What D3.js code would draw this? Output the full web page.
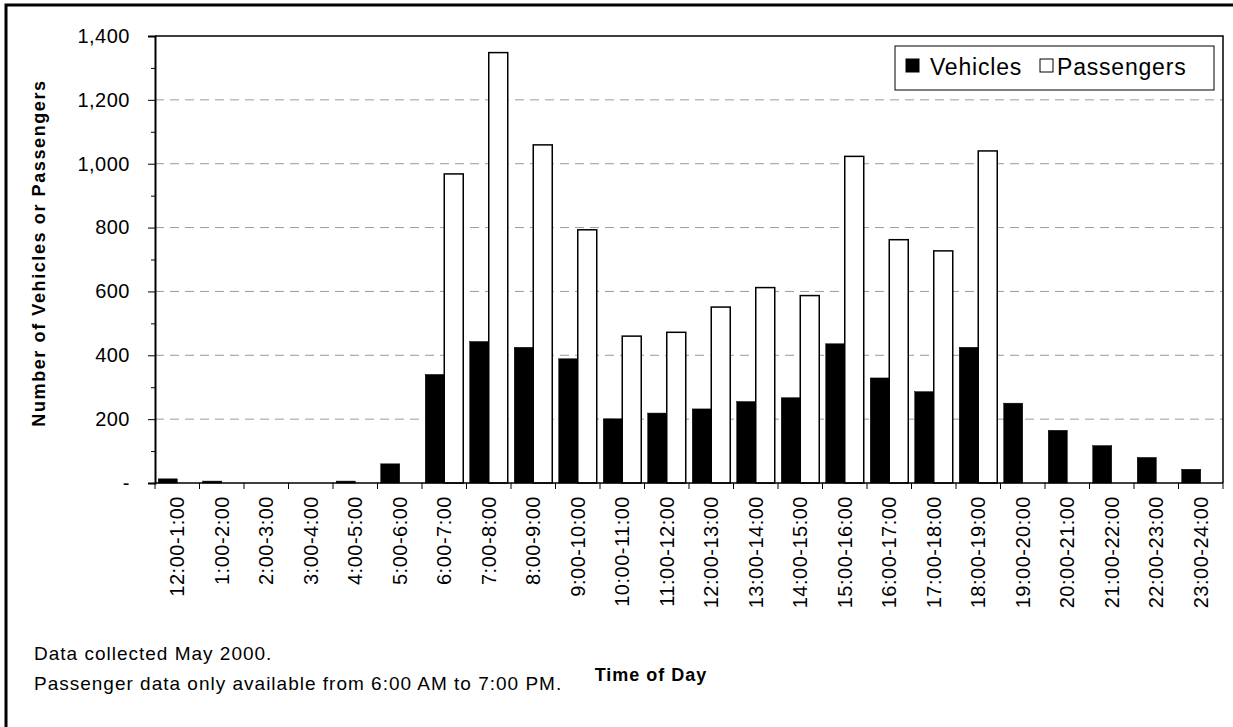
<!DOCTYPE html>
<html>
<head>
<meta charset="utf-8">
<script src="https://cdn.jsdelivr.net/npm/d3@7"></script>
<style>
    body { margin: 0; background: #fff; }
    svg text { font-family: Arial, "Liberation Sans", sans-serif; fill: #000; }
</style>
</head>
<body>
<div id="chart"></div>
<script>
const categories = ["12:00-1:00", "1:00-2:00", "2:00-3:00", "3:00-4:00", "4:00-5:00", "5:00-6:00",
    "6:00-7:00", "7:00-8:00", "8:00-9:00", "9:00-10:00", "10:00-11:00", "11:00-12:00",
    "12:00-13:00", "13:00-14:00", "14:00-15:00", "15:00-16:00", "16:00-17:00", "17:00-18:00",
    "18:00-19:00", "19:00-20:00", "20:00-21:00", "21:00-22:00", "22:00-23:00", "23:00-24:00"]
const vehicles = [13, 6, 0, 0, 6, 60, 340, 443, 425, 389, 201, 219, 232, 255, 267, 436, 329, 286, 425, 250, 165, 117, 80, 43]
const passengers = [null, null, null, null, null, null, 968, 1348, 1059, 793, 460, 472, 551, 612, 587, 1023, 762, 727, 1040, null, null, null, null, null]
const seriesNames = ["Vehicles", "Passengers"]
const yTicks = [0, 200, 400, 600, 800, 1000, 1200, 1400]
const notes = ["Data collected May 2000.", "Passenger data only available from 6:00 AM to 7:00 PM."]

const width = 1233
const height = 727
const plot = {left: 155, right: 1223, top: 36, bottom: 483}

const svg = d3.select("#chart").append("svg")
    .attr("width", width)
    .attr("height", height)

// outer frame (only top and left edges fall inside the picture)
svg.append("rect")
    .attr("x", 6).attr("y", 5)
    .attr("width", width + 20).attr("height", height + 20)
    .attr("fill", "none").attr("stroke", "#000").attr("stroke-width", 3)

const x0 = d3.scaleBand()
    .domain(categories)
    .range([plot.left, plot.right])
    .paddingInner(0.146)
    .paddingOuter(0.073)
const x1 = d3.scaleBand()
    .domain(seriesNames)
    .range([0, x0.bandwidth()])
const y = d3.scaleLinear()
    .domain([0, 1400])
    .range([plot.bottom, plot.top])

// gridlines
svg.append("g")
    .selectAll("line")
    .data(yTicks.filter(d => d > 0 && d < 1400))
    .enter()
    .append("line")
    .attr("x1", plot.left).attr("x2", plot.right)
    .attr("y1", d => y(d)).attr("y2", d => y(d))
    .attr("stroke", "#9a9a9a")
    .attr("stroke-dasharray", "9,6")

// plot area border (top and right)
svg.append("path")
    .attr("d", `M${plot.left},${plot.top}H${plot.right}V${plot.bottom}`)
    .attr("fill", "none").attr("stroke", "#000").attr("stroke-width", 1.5)

const rows = categories.map((c, i) => ({cat: c, Vehicles: vehicles[i], Passengers: passengers[i]}))

const groups = svg.append("g")
    .selectAll("g")
    .data(rows)
    .enter()
    .append("g")
    .attr("transform", d => `translate(${x0(d.cat)},0)`)

groups.selectAll("rect")
    .data(d => seriesNames.map(k => ({key: k, value: d[k]})).filter(v => v.value !== null))
    .enter()
    .append("rect")
    .attr("x", d => x1(d.key))
    .attr("width", x1.bandwidth())
    .attr("y", d => y(d.value))
    .attr("height", d => y(0) - y(d.value))
    .attr("fill", d => d.key === "Vehicles" ? "#000" : "#fff")
    .attr("stroke", "#000")
    .attr("stroke-width", d => d.key === "Vehicles" ? 0.5 : 1.5)

// y axis
const yAxis = d3.axisLeft(y)
    .tickValues(yTicks)
    .tickSize(7)
    .tickPadding(18)
    .tickFormat(d => d === 0 ? "-" : d3.format(",")(d))
const yg = svg.append("g")
    .attr("transform", `translate(${plot.left},0)`)
    .call(yAxis)
yg.select(".domain").attr("stroke-width", 2)
yg.selectAll(".tick text")
    .style("font-size", "20px")
    .style("letter-spacing", "0.5px")
svg.append("g")
    .attr("transform", `translate(${plot.left},0)`)
    .call(d3.axisLeft(y).tickValues(d3.range(100, 1400, 200)).tickSize(4).tickFormat(""))
    .select(".domain").remove()

// x axis
const step = x0.step()
const gap = step - x0.bandwidth()
const bounds = categories.map(c => x0(c) - gap / 2).concat([x0(categories[categories.length - 1]) + x0.bandwidth() + gap / 2])
svg.append("line")
    .attr("x1", plot.left).attr("x2", plot.right)
    .attr("y1", plot.bottom).attr("y2", plot.bottom)
    .attr("stroke", "#000").attr("stroke-width", 1.5)
svg.append("g")
    .selectAll("line")
    .data(bounds)
    .enter()
    .append("line")
    .attr("x1", d => d).attr("x2", d => d)
    .attr("y1", plot.bottom).attr("y2", plot.bottom + 6)
    .attr("stroke", "#000").attr("stroke-width", 1)
svg.append("g")
    .selectAll("text")
    .data(categories)
    .enter()
    .append("text")
    .attr("transform", d => `translate(${x0(d) + x0.bandwidth() / 2},496) rotate(-90)`)
    .attr("dy", "0.35em")
    .attr("text-anchor", "end")
    .style("font-size", "20px")
    .style("letter-spacing", "0.5px")
    .text(d => d)

// axis titles
svg.append("text")
    .attr("transform", "translate(45,253) rotate(-90)")
    .attr("text-anchor", "middle")
    .style("font-size", "18px")
    .style("font-weight", "bold")
    .style("letter-spacing", "1.6px")
    .text("Number of Vehicles or Passengers")
svg.append("text")
    .attr("x", 651).attr("y", 681)
    .attr("text-anchor", "middle")
    .style("font-size", "18px")
    .style("font-weight", "bold")
    .style("letter-spacing", "1px")
    .text("Time of Day")

// legend
const legend = svg.append("g")
legend.append("rect")
    .attr("x", 895).attr("y", 46).attr("width", 319).attr("height", 44)
    .attr("fill", "#fff").attr("stroke", "#000").attr("stroke-width", 1)
const legendX = [906, 1040]
const legendTextX = [930, 1057]
seriesNames.forEach((name, i) => {
    legend.append("rect")
        .attr("x", legendX[i]).attr("y", 59).attr("width", 13).attr("height", 13)
        .attr("fill", i === 0 ? "#000" : "#fff")
        .attr("stroke", "#000").attr("stroke-width", 1)
    legend.append("text")
        .attr("x", legendTextX[i]).attr("y", 75)
        .style("font-size", "23px")
        .style("letter-spacing", "0.8px")
        .text(name)
})

// notes
svg.append("g")
    .selectAll("text")
    .data(notes)
    .enter()
    .append("text")
    .attr("x", 34)
    .attr("y", (d, i) => 660 + i * 30)
    .style("font-size", "19px")
    .style("letter-spacing", "1px")
    .text(d => d)
</script>
</body>
</html>
